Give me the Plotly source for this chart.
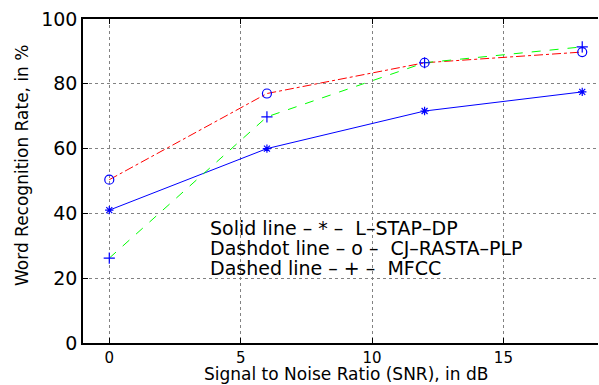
import plotly.graph_objects as go

# Signal to noise ratios (dB) at which recognition was measured
snr_db = [0, 6, 12, 18]

# Word recognition rate (%) for each front end
l_stap_dp = [41, 60, 71.6, 77.5]
cj_rasta_plp = [50.4, 77, 86.5, 89.8]
mfcc = [26.2, 69.8, 86.5, 91.4]

x_ticks = [0, 5, 10, 15]
y_ticks = [0, 20, 40, 60, 80, 100]

legend_lines = [
    "Solid line \u2013 * \u2013  L\u2013STAP\u2013DP",
    "Dashdot line \u2013 o \u2013  CJ\u2013RASTA\u2013PLP",
    "Dashed line \u2013 + \u2013  MFCC",
]

FONT = "DejaVu Sans, Liberation Sans, Arial, sans-serif"
BLUE = "rgb(0,0,255)"

fig = go.Figure()

fig.add_trace(go.Scatter(
    x=snr_db, y=l_stap_dp, mode="lines+markers",
    line=dict(color=BLUE, width=1, dash="solid"),
    marker=dict(symbol="asterisk-open", size=7, color=BLUE,
                line=dict(color=BLUE, width=1.2)),
    name="L-STAP-DP", showlegend=False,
))
fig.add_trace(go.Scatter(
    x=snr_db, y=cj_rasta_plp, mode="lines+markers",
    line=dict(color="rgb(255,0,0)", width=1, dash="dashdot"),
    marker=dict(symbol="circle-open", size=9, color=BLUE,
                line=dict(color=BLUE, width=1.2)),
    name="CJ-RASTA-PLP", showlegend=False,
))
fig.add_trace(go.Scatter(
    x=snr_db, y=mfcc, mode="lines+markers",
    line=dict(color="rgb(0,255,0)", width=1, dash="dash"),
    marker=dict(symbol="cross-thin-open", size=8, color=BLUE,
                line=dict(color=BLUE, width=1.2)),
    name="MFCC", showlegend=False,
))

# Text key inside the axes
for i, txt in enumerate(legend_lines):
    fig.add_annotation(
        x=3.75, y=35.5 - i * 6.2, xref="x", yref="y", text=txt,
        showarrow=False, xanchor="left", yanchor="middle",
        font=dict(family=FONT, size=19, color="black"),
    )

# Axis titles
fig.add_annotation(
    x=9, y=-0.1296, xref="x", yref="paper",
    text="Signal to Noise Ratio (SNR), in dB", showarrow=False,
    xanchor="center", yanchor="bottom", borderpad=0,
    font=dict(family=FONT, size=17, color="black"),
)
fig.add_annotation(
    x=-0.118, y=0.547, xref="paper", yref="paper",
    text="Word Recognition Rate, in %", showarrow=False, textangle=-90,
    xanchor="center", yanchor="middle",
    font=dict(family=FONT, size=17, color="black"),
)

axis_common = dict(
    showline=True, linecolor="black", linewidth=1.5,
    ticks="inside", ticklen=5, tickcolor="black", tickwidth=1,
    showgrid=True, gridcolor="rgb(130,130,130)", griddash="dot", gridwidth=1,
    zeroline=False,
)

fig.update_xaxes(
    range=[-1, 18.6], tickvals=x_ticks, mirror="ticks",
    tickfont=dict(family=FONT, size=15, color="black"), **axis_common,
)
fig.update_yaxes(
    range=[0, 100], tickvals=y_ticks,
    tickfont=dict(family=FONT, size=19, color="black"), **axis_common,
)

fig.update_layout(
    width=599, height=385,
    margin=dict(l=83, r=1, t=19, b=42),
    paper_bgcolor="white", plot_bgcolor="white",
    font=dict(family=FONT, color="black"),
)

fig.write_html("out.html")
